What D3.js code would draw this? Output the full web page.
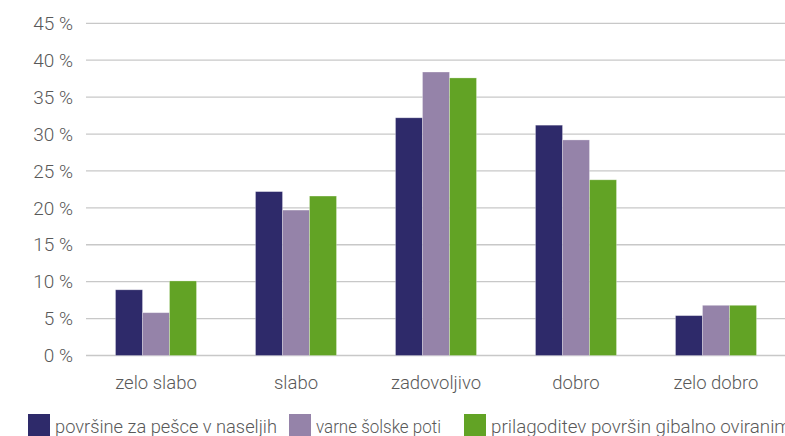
<!DOCTYPE html>
<html>
<head>
<meta charset="utf-8">
<script src="https://cdn.jsdelivr.net/npm/d3@7"></script>
<style>
  html, body { margin: 0; padding: 0; background: #fff; overflow: hidden; }
  svg { display: block; font-family: Roboto, "Noto Sans", sans-serif; font-weight: 300; }
</style>
</head>
<body>
<svg id="chart" width="785" height="436"></svg>
<script>
// Ratings of walking surfaces, school routes and accessibility adaptations
const categories = ["zelo slabo", "slabo", "zadovoljivo", "dobro", "zelo dobro"];
const seriesNames = ["površine za pešce v naseljih", "varne šolske poti", "prilagoditev površin gibalno oviranim"];
const pescci = [8.9, 22.2, 32.2, 31.2, 5.4];
const solskePoti = [5.8, 19.7, 38.4, 29.2, 6.8];
const prilagoditev = [10.1, 21.6, 37.6, 23.8, 6.8];
const colors = ["#2e2a6a", "#9583a9", "#62a325"];
const yTicks = [0, 5, 10, 15, 20, 25, 30, 35, 40, 45];

const series = [pescci, solskePoti, prilagoditev];
const svg = d3.select("#chart");
const W = 785;
const plotLeft = 86, plotRight = 786, plotTop = 23.3, plotBottom = 355.5;

const x = d3.scaleBand().domain(categories).range([plotLeft, plotRight]).paddingInner(0).paddingOuter(0);
const inner = d3.scaleBand().domain(d3.range(series.length)).range([0, x.bandwidth()])
  .paddingInner(0).paddingOuter((x.bandwidth() / 27 - 3) / 2);
const y = d3.scaleLinear().domain([0, 45]).range([plotBottom, plotTop]);

// gridlines
svg.append("g")
  .selectAll("line")
  .data(yTicks)
  .join("line")
  .attr("x1", plotLeft).attr("x2", W)
  .attr("y1", d => y(d)).attr("y2", d => y(d))
  .attr("stroke", "#c8c8c8").attr("stroke-width", 1.3);

// y tick labels
svg.append("g")
  .selectAll("text")
  .data(yTicks)
  .join("text")
  .attr("x", 73).attr("y", d => y(d))
  .attr("dy", "0.35em")
  .attr("text-anchor", "end")
  .attr("fill", "#595959")
  .attr("font-size", 19)
  .text(d => d + " %");

// bars
const groups = svg.append("g")
  .selectAll("g")
  .data(series)
  .join("g")
  .attr("fill", (d, i) => colors[i]);

groups.selectAll("rect")
  .data((vals, si) => vals.map((v, ci) => ({ v, ci, si })))
  .join("rect")
  .attr("x", d => x(categories[d.ci]) + inner(d.si))
  .attr("y", d => y(d.v))
  .attr("width", inner.bandwidth())
  .attr("height", d => y(0) - y(d.v))
  .attr("stroke", "#ffffff")
  .attr("stroke-opacity", 0.35)
  .attr("stroke-width", 0.8);

// category labels
svg.append("g")
  .selectAll("text")
  .data(categories)
  .join("text")
  .attr("x", d => x(d) + x.bandwidth() / 2)
  .attr("y", 383)
  .attr("dy", "0.35em")
  .attr("text-anchor", "middle")
  .attr("fill", "#595959")
  .attr("font-size", 18.5)
  .text(d => d);

// legend
const legendX = [28, 289, 464];
const legendW = [222, 125, 300];
const legend = svg.append("g")
  .selectAll("g")
  .data(seriesNames)
  .join("g")
  .attr("transform", (d, i) => `translate(${legendX[i]},414)`);
legend.append("rect")
  .attr("width", 22).attr("height", 22)
  .attr("fill", (d, i) => colors[i]);
legend.append("text")
  .attr("x", 27).attr("y", 12)
  .attr("dy", "0.35em")
  .attr("fill", "#595959")
  .attr("font-size", 19)
  .attr("textLength", (d, i) => legendW[i])
  .attr("lengthAdjust", "spacingAndGlyphs")
  .text(d => d);
</script>
</body>
</html>
